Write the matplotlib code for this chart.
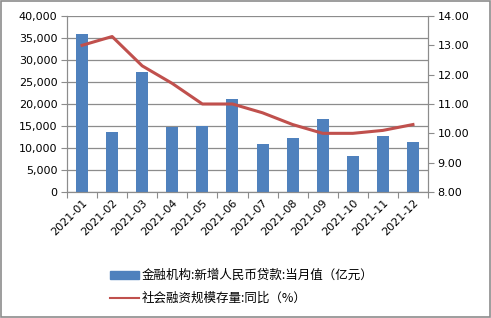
import numpy as np
import matplotlib.pyplot as plt
from matplotlib.patches import Rectangle
from matplotlib.lines import Line2D

plt.rcParams['font.family'] = ['Noto Sans CJK SC', 'DejaVu Sans']

months = ['2021-01', '2021-02', '2021-03', '2021-04', '2021-05', '2021-06',
          '2021-07', '2021-08', '2021-09', '2021-10', '2021-11', '2021-12']
loans = [35800, 13600, 27300, 14700, 15000, 21200, 10800, 12200, 16600, 8262, 12700, 11300]
tsf_yoy = [13.0, 13.3, 12.3, 11.7, 11.0, 11.0, 10.7, 10.3, 10.0, 10.0, 10.1, 10.3]
bar_label = '金融机构:新增人民币贷款:当月值（亿元）'
line_label = '社会融资规模存量:同比（%）'

fig = plt.figure(figsize=(4.91, 3.18), dpi=100)
fig.patches.append(Rectangle((0.002, 0.003), 0.995, 0.993, transform=fig.transFigure,
                             fill=False, edgecolor='#8c8c8c', lw=1.2))
ax = fig.add_axes([67/491, 1-192/318, (428-67)/491, (192-16)/318])
x = np.arange(len(months))
ax.bar(x, loans, width=0.4, color='#4f81bd', zorder=3)
ax.set_xlim(-0.5, 11.5)
ax.set_ylim(0, 40000)
ax.set_yticks(np.arange(0, 40001, 5000))
ax.set_yticklabels(['{:,}'.format(v) for v in range(0, 40001, 5000)],
                   family='DejaVu Sans', fontsize=8)
ax.grid(axis='y', color='#8c8c8c', lw=0.9, zorder=0)
ax.set_xticks(np.arange(-0.5, 12, 1), minor=False)
ax.set_xticklabels([])
ax.set_xticks(x, minor=True)
ax.set_xticklabels(months, minor=True, rotation=45, ha='right', va='top',
                   rotation_mode='anchor', family='DejaVu Sans', fontsize=8)
ax.tick_params(axis='x', which='minor', length=0, pad=4)
ax.tick_params(axis='x', which='major', length=4, color='#8c8c8c')
ax.tick_params(axis='y', length=4, color='#8c8c8c', pad=3)
ax.spines['top'].set_visible(False)
for s in ['left', 'right', 'bottom']:
    ax.spines[s].set_color('#8c8c8c')

ax2 = ax.twinx()
ax2.plot(x, tsf_yoy, color='#c0504d', lw=2.2, zorder=4)
ax2.set_ylim(8, 14)
ax2.set_yticks(np.arange(8, 14.01, 1))
ax2.set_yticklabels(['{:.2f}'.format(v) for v in np.arange(8, 14.01, 1)],
                    family='DejaVu Sans', fontsize=8)
ax2.tick_params(axis='y', length=4, color='#8c8c8c', pad=3)
ax2.spines['top'].set_visible(False)
for s in ['left', 'right', 'bottom']:
    ax2.spines[s].set_color('#8c8c8c')

handles = [Rectangle((0, 0), 1, 1, color='#4f81bd'),
           Line2D([0], [0], color='#c0504d', lw=1.5)]
fig.legend(handles, [bar_label, line_label], loc='upper left',
           bbox_to_anchor=(99/491, 1-258/318), frameon=False, fontsize=9,
           handlelength=2.3, handleheight=0.55, labelspacing=0.75, handletextpad=0.2)

fig.savefig('out.png', dpi=100)
